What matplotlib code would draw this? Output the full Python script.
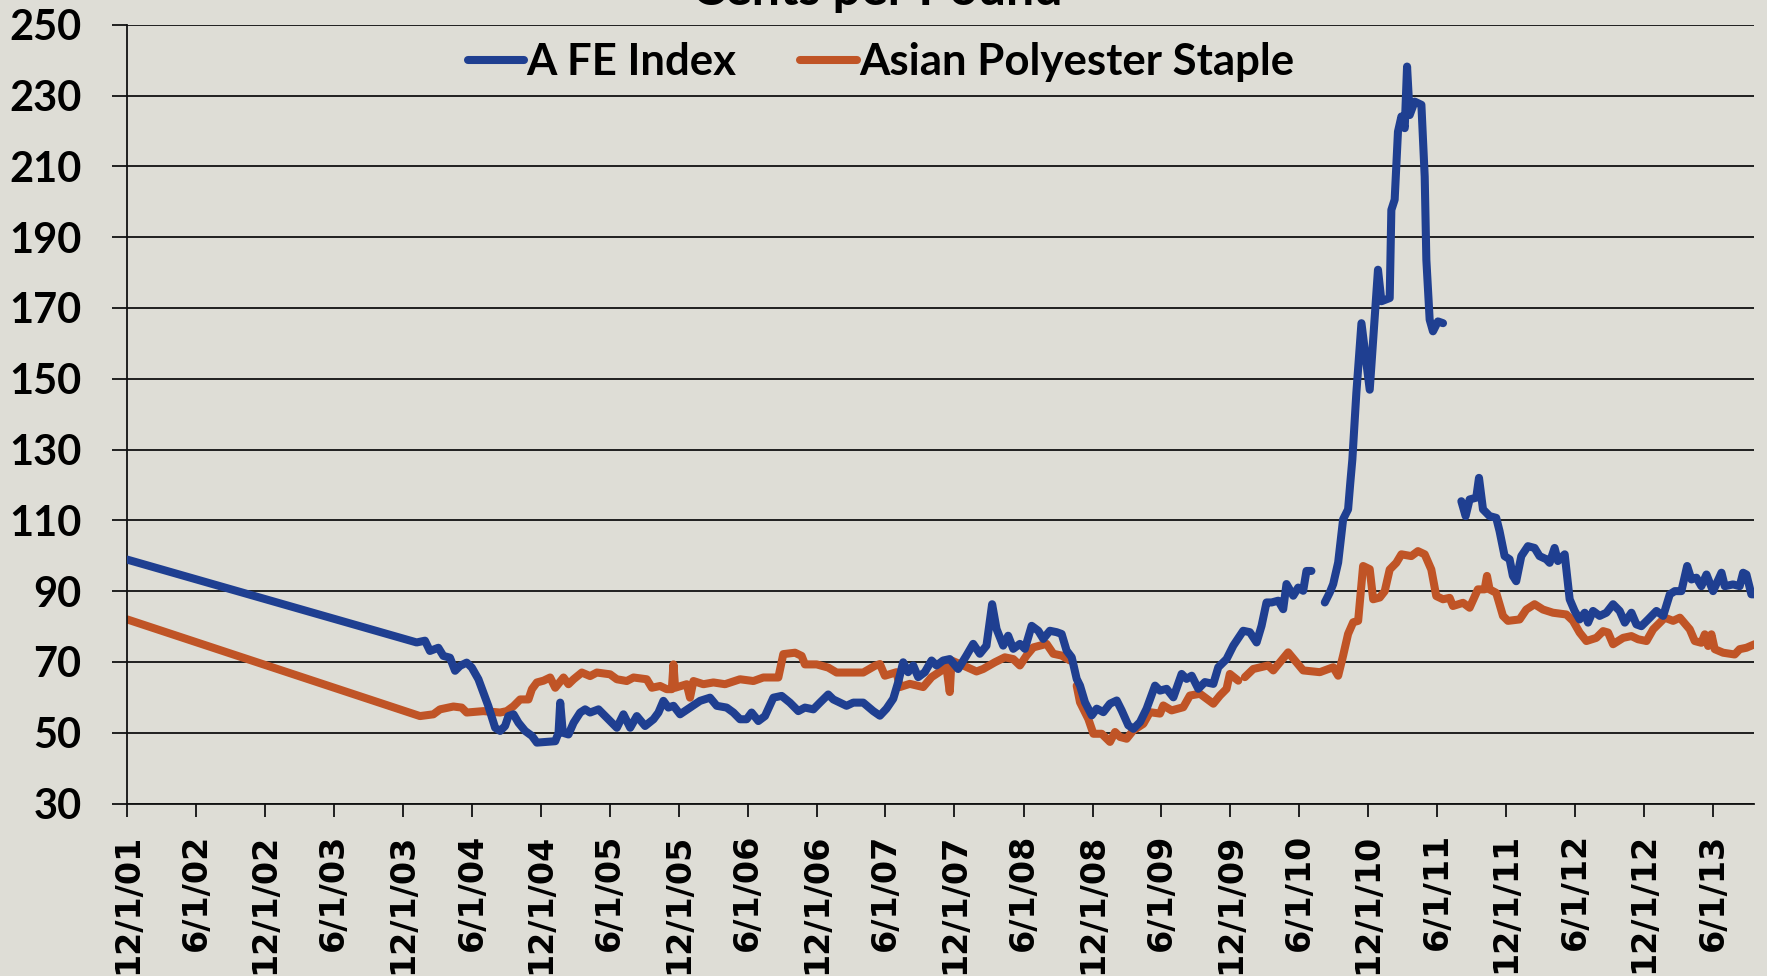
import matplotlib
matplotlib.use("Agg")
import matplotlib.pyplot as plt
import numpy as np
import pandas as pd

# A FE Index (decimal year, cents/lb); None marks a break in the series
afe_years = [2001.915, 2004.015, 2004.075, 2004.111, 2004.172, 2004.208, 2004.256, 2004.293, 2004.329, 2004.377,
             2004.414, 2004.462, 2004.498, 2004.534, 2004.583, 2004.619, 2004.655, 2004.679, 2004.716, 2004.752,
             2004.800, 2004.849, 2004.885, 2004.957, 2005.018, 2005.042, 2005.054, 2005.073, 2005.114, 2005.151,
             2005.199, 2005.235, 2005.271, 2005.332, 2005.380, 2005.429, 2005.465, 2005.513, 2005.562, 2005.610,
             2005.670, 2005.731, 2005.767, 2005.803, 2005.839, 2005.876, 2005.924, 2005.996, 2006.069, 2006.141,
             2006.190, 2006.262, 2006.311, 2006.359, 2006.407, 2006.443, 2006.492, 2006.540, 2006.601, 2006.661,
             2006.721, 2006.782, 2006.830, 2006.891, 2006.939, 2006.999, 2007.036, 2007.132, 2007.181, 2007.253,
             2007.326, 2007.374, 2007.422, 2007.471, 2007.507, 2007.543, 2007.579, 2007.616, 2007.652, 2007.700,
             2007.749, 2007.785, 2007.833, 2007.881, 2007.942, 2008.002, 2008.051, 2008.099, 2008.147, 2008.188,
             2008.220, 2008.268, 2008.304, 2008.341, 2008.389, 2008.425, 2008.474, 2008.522, 2008.558, 2008.606,
             2008.655, 2008.691, 2008.727, 2008.764, 2008.800, 2008.824, 2008.860, 2008.909, 2008.945, 2008.993,
             2009.041, 2009.090, 2009.126, 2009.174, 2009.211, 2009.259, 2009.307, 2009.368, 2009.404, 2009.452,
             2009.501, 2009.561, 2009.597, 2009.634, 2009.682, 2009.730, 2009.791, 2009.827, 2009.887, 2009.936,
             2010.008, 2010.056, 2010.105, 2010.141, 2010.177, 2010.214, 2010.262, 2010.298, 2010.322, 2010.371,
             2010.407, 2010.443, 2010.467, 2010.503, 2010.550, 2010.600, 2010.636, 2010.661, 2010.697, 2010.733,
             2010.769, 2010.785, 2010.800, 2010.829, 2010.866, 2010.926, 2010.986, 2011.011, 2011.071, 2011.083,
             2011.107, 2011.131, 2011.156, 2011.180, 2011.197, 2011.216, 2011.252, 2011.301, 2011.325, 2011.337,
             2011.361, 2011.385, 2011.421, 2011.458, 2011.520, 2011.591, 2011.622, 2011.651, 2011.699, 2011.719,
             2011.748, 2011.796, 2011.844, 2011.868, 2011.905, 2011.941, 2011.965, 2011.989, 2012.026, 2012.074,
             2012.122, 2012.158, 2012.207, 2012.231, 2012.267, 2012.291, 2012.340, 2012.376, 2012.412, 2012.448,
             2012.485, 2012.509, 2012.545, 2012.593, 2012.642, 2012.690, 2012.738, 2012.775, 2012.823, 2012.859,
             2012.895, 2012.944, 2013.004, 2013.053, 2013.101, 2013.137, 2013.185, 2013.227, 2013.258, 2013.294,
             2013.330, 2013.367, 2013.415, 2013.476, 2013.500, 2013.560, 2013.608, 2013.633, 2013.657, 2013.693,
             2013.717]
afe_values = [98.9, 75.5, 76.0, 73.1, 74.0, 71.7, 71.2, 67.5, 68.9, 69.8,
              68.4, 65.1, 61.3, 57.5, 51.4, 50.5, 51.9, 54.7, 55.2, 52.8,
              50.5, 49.1, 47.2, 47.4, 47.6, 50.0, 58.5, 50.0, 49.5, 52.8,
              55.7, 56.6, 55.7, 56.6, 54.7, 52.8, 51.4, 55.2, 51.4, 54.7,
              51.9, 53.8, 55.7, 59.0, 57.1, 57.6, 55.2, 57.1, 59.0, 59.9,
              57.6, 57.1, 55.7, 53.8, 53.8, 55.7, 53.3, 54.7, 59.9, 60.4,
              58.5, 56.1, 57.1, 56.6, 58.5, 60.8, 59.4, 57.6, 58.5, 58.5,
              56.1, 54.8, 56.8, 59.6, 64.3, 69.9, 67.1, 69.0, 65.7, 67.1,
              70.4, 69.0, 70.4, 70.8, 68.0, 71.8, 75.1, 72.3, 74.6, 86.3,
              79.3, 74.6, 77.4, 73.7, 75.1, 73.7, 80.2, 78.8, 76.5, 78.8,
              78.4, 77.9, 73.2, 71.3, 65.2, 63.3, 58.6, 54.9, 56.8, 55.8,
              58.2, 59.1, 56.3, 52.1, 51.1, 53.0, 56.8, 63.3, 61.9, 62.4,
              60.0, 66.6, 65.2, 66.1, 62.4, 64.3, 63.8, 68.5, 70.8, 74.6,
              78.8, 78.4, 75.5, 80.2, 86.8, 86.8, 87.3, 84.9, 92.0, 88.7,
              91.0, 90.1, 95.7, 95.7, None, 86.8, 89.6, 92.0, 98.1, 110.3,
              113.1, 120.6, 127.2, 146.0, 165.7, 146.9, 180.8, 171.9, 172.8, 197.7,
              200.6, 219.8, 224.1, 220.8, 238.2, 224.5, 228.3, 227.4, 207.1, 183.6,
              166.7, 163.4, 166.2, 165.7, None, 115.4, 111.2, 115.9, 116.4, 122.0,
              113.1, 111.2, 110.7, 107.0, 99.9, 99.0, 94.3, 92.8, 99.9, 102.7,
              102.2, 99.9, 99.0, 98.0, 102.2, 98.5, 100.4, 87.7, 84.4, 82.0,
              83.9, 81.1, 84.4, 83.0, 83.9, 86.3, 84.4, 81.1, 83.9, 80.6,
              80.1, 82.0, 84.4, 83.0, 89.1, 90.0, 90.0, 97.1, 93.3, 93.8,
              91.4, 94.7, 90.0, 95.2, 91.4, 91.9, 91.4, 95.2, 94.7, 89.1,
              89.1]

# Asian Polyester Staple
poly_years = [2001.915, 2004.039, 2004.136, 2004.184, 2004.281, 2004.341, 2004.377, 2004.498, 2004.619, 2004.667,
              2004.716, 2004.764, 2004.824, 2004.849, 2004.885, 2004.933, 2004.981, 2005.018, 2005.078, 2005.114,
              2005.151, 2005.211, 2005.271, 2005.320, 2005.416, 2005.465, 2005.537, 2005.586, 2005.682, 2005.719,
              2005.779, 2005.827, 2005.864, 2005.876, 2005.888, 2005.972, 2005.996, 2006.021, 2006.093, 2006.166,
              2006.250, 2006.359, 2006.456, 2006.528, 2006.637, 2006.673, 2006.758, 2006.806, 2006.830, 2006.915,
              2006.999, 2007.060, 2007.156, 2007.253, 2007.338, 2007.374, 2007.410, 2007.495, 2007.519, 2007.591,
              2007.688, 2007.749, 2007.857, 2007.881, 2007.894, 2007.978, 2008.075, 2008.123, 2008.208, 2008.280,
              2008.341, 2008.389, 2008.437, 2008.486, 2008.582, 2008.631, 2008.691, 2008.752, 2008.776, 2008.800,
              2008.824, 2008.884, 2008.921, 2008.981, 2009.041, 2009.078, 2009.114, 2009.162, 2009.211, 2009.283,
              2009.331, 2009.404, 2009.428, 2009.488, 2009.573, 2009.621, 2009.694, 2009.791, 2009.839, 2009.887,
              2009.911, 2009.972, 2009.996, 2010.020, 2010.081, 2010.189, 2010.226, 2010.334, 2010.443, 2010.564,
              2010.661, 2010.697, 2010.733, 2010.769, 2010.806, 2010.842, 2010.878, 2010.926, 2010.951, 2010.999,
              2011.035, 2011.071, 2011.119, 2011.156, 2011.228, 2011.276, 2011.325, 2011.373, 2011.409, 2011.458,
              2011.506, 2011.530, 2011.603, 2011.651, 2011.711, 2011.760, 2011.777, 2011.796, 2011.844, 2011.893,
              2011.929, 2012.014, 2012.062, 2012.122, 2012.183, 2012.255, 2012.352, 2012.400, 2012.448, 2012.497,
              2012.569, 2012.618, 2012.654, 2012.690, 2012.763, 2012.823, 2012.871, 2012.932, 2012.980, 2013.065,
              2013.125, 2013.174, 2013.246, 2013.282, 2013.330, 2013.355, 2013.379, 2013.403, 2013.427, 2013.488,
              2013.572, 2013.608, 2013.657, 2013.717]
poly_values = [82.0, 54.7, 55.2, 56.6, 57.4, 57.1, 55.7, 56.1, 55.7, 56.1,
               57.5, 59.4, 59.4, 62.3, 64.2, 64.7, 65.6, 62.7, 65.6, 63.7,
               65.1, 67.0, 66.0, 67.0, 66.5, 65.1, 64.6, 65.6, 65.1, 62.7,
               63.2, 62.3, 62.3, 69.3, 62.7, 63.7, 59.9, 64.6, 63.7, 64.2,
               63.7, 65.1, 64.6, 65.6, 65.6, 72.2, 72.6, 71.7, 69.3, 69.3,
               68.4, 67.0, 67.0, 67.0, 68.9, 69.4, 66.1, 67.1, 62.9, 63.8,
               62.9, 65.7, 68.5, 61.5, 70.4, 69.0, 67.3, 68.0, 69.9, 71.3,
               70.8, 69.0, 71.8, 74.1, 75.1, 72.3, 71.8, 70.4, None, 63.3,
               58.6, 53.9, 49.7, 49.7, 47.4, 50.2, 48.8, 48.3, 50.7, 52.5,
               55.8, 55.4, 57.7, 56.3, 57.2, 60.5, 61.0, 58.2, 60.5, 62.4,
               66.6, 64.7, None, 65.7, 68.0, 69.0, 67.6, 72.7, 67.6, 67.1,
               68.5, 66.1, 71.8, 77.9, 81.2, 81.6, 97.1, 96.2, 87.7, 88.2,
               90.0, 96.1, 98.0, 100.4, 99.9, 101.3, 100.4, 96.1, 88.6, 87.7,
               88.1, 85.8, 86.7, 85.3, 90.5, 90.5, 94.3, 90.5, 89.5, 83.0,
               81.6, 82.0, 84.8, 86.3, 84.8, 83.9, 83.4, 81.6, 78.3, 75.9,
               76.8, 78.7, 78.3, 75.0, 76.8, 77.3, 76.4, 75.9, 79.2, 82.5,
               81.6, 82.5, 79.2, 75.9, 75.4, 77.8, 74.5, 77.8, 73.6, 72.6,
               72.1, 73.6, 74.0, 75.0]

tick_labels = ["12/1/01", "6/1/02", "12/1/02", "6/1/03", "12/1/03", "6/1/04", "12/1/04", "6/1/05",
               "12/1/05", "6/1/06", "12/1/06", "6/1/07", "12/1/07", "6/1/08", "12/1/08", "6/1/09",
               "12/1/09", "6/1/10", "12/1/10", "6/1/11", "12/1/11", "6/1/12", "12/1/12", "6/1/13"]
y_ticks = list(range(30, 251, 20))

BLUE = "#1F3F91"
ORANGE = "#C05426"
BG = "#DEDDD6"
LABEL_FONT = "Lato"


def to_dates(years):
    out = []
    for y in years:
        yr = int(y)
        start = pd.Timestamp(yr, 1, 1)
        end = pd.Timestamp(yr + 1, 1, 1)
        out.append(start + (end - start) * (y - yr))
    return out


def to_array(values):
    return np.array([np.nan if v is None else v for v in values], dtype=float)


fig = plt.figure(figsize=(17.67, 9.76), dpi=100, facecolor=BG)
ax = fig.add_axes([0.07204, 0.17674, 0.92060, 0.79785], facecolor=BG)

l1, = ax.plot(to_dates(afe_years), to_array(afe_values), color=BLUE, lw=5.8,
              solid_capstyle="round", solid_joinstyle="round", label="A FE Index", zorder=3)
l2, = ax.plot(to_dates(poly_years), to_array(poly_values), color=ORANGE, lw=5.8,
              solid_capstyle="round", solid_joinstyle="round", label="Asian Polyester Staple", zorder=2)

tick_dates = pd.to_datetime(tick_labels, format="%m/%d/%y")
ax.set_xticks(tick_dates)
ax.set_xticklabels(tick_labels, rotation=90, fontfamily="DejaVu Sans", fontweight="bold", fontsize=24)
ax.set_xlim(tick_dates[0], to_dates([2013.712])[0])

ax.set_ylim(30, 250)
ax.set_yticks(y_ticks)
ax.set_yticklabels([str(v) for v in y_ticks], fontfamily=LABEL_FONT, fontweight="bold", fontsize=30)

ax.grid(axis="y", color="#111111", lw=1.3)
ax.set_axisbelow(True)
for s in ["top", "right"]:
    ax.spines[s].set_visible(False)
for s in ["left", "bottom"]:
    ax.spines[s].set_color("#111111")
    ax.spines[s].set_linewidth(1.3)
ax.tick_params(axis="y", direction="out", length=11, width=1.3, pad=22, color="#111111")
ax.tick_params(axis="x", direction="out", length=9.5, width=1.3, pad=12, color="#111111")

leg = fig.legend(handles=[l1, l2], loc="center", bbox_to_anchor=(0.4985, 0.9365), ncol=2,
                 frameon=False, handlelength=1.3, handletextpad=0.05, columnspacing=1.45,
                 prop={"family": LABEL_FONT, "weight": "bold", "size": 31.5})

fig.text(0.4965, 0.9949, "Cents per Pound", ha="center", va="baseline",
         fontfamily=LABEL_FONT, fontweight="bold", fontsize=36)

fig.savefig("out.png", dpi=100, facecolor=BG)
